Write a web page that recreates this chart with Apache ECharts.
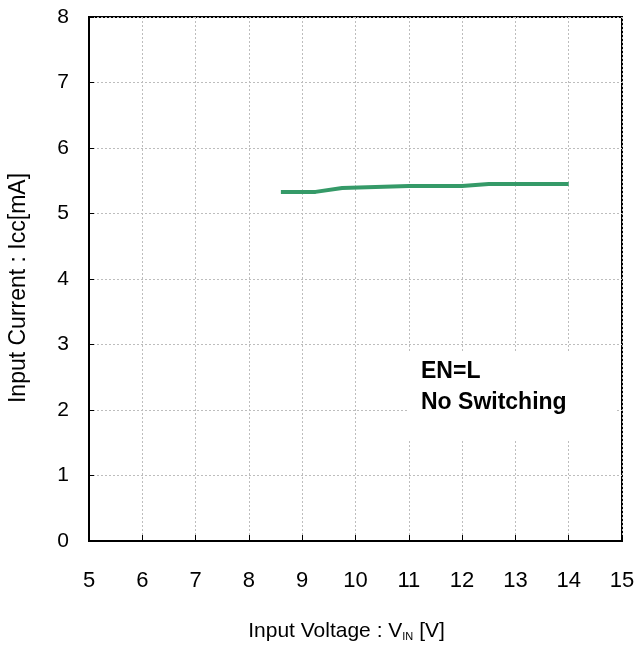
<!DOCTYPE html>
<html>
<head>
<meta charset="utf-8">
<script src="https://cdn.jsdelivr.net/npm/echarts@6/dist/echarts.min.js"></script>
<style>
html, body { margin: 0; padding: 0; background: #fff; }
#chart { width: 638px; height: 648px; }
</style>
</head>
<body>
<div id="chart"></div>
<script>
// input voltage [V] vs input current [mA]
const vin = [8.6, 9.25, 9.75, 11, 12, 12.5, 14];
const icc = [5.33, 5.33, 5.39, 5.42, 5.42, 5.45, 5.45];
const noteLines = ['EN=L', 'No Switching'];

const chart = echarts.init(document.getElementById('chart'));

const font = '"Liberation Sans", Arial, sans-serif';

const option = {
    animation: false,
    grid: {
        left: 89,
        right: 16,
        top: 17,
        bottom: 107,
        outerBoundsMode: 'none',
        containLabel: false,
        show: true,
        borderColor: '#000',
        borderWidth: 2
    },
    xAxis: {
        type: 'value',
        min: 5,
        max: 15,
        interval: 1,
        name: 'Input Voltage : V{sub|IN} [V]',
        nameLocation: 'middle',
        nameGap: 80,
        nameTextStyle: {
            fontFamily: font,
            fontSize: 21,
            color: '#000',
            padding: [0, 18, 0, 0],
            rich: {
                sub: { fontSize: 11, verticalAlign: 'bottom', padding: [8, 0, 0, 0], fontFamily: font, color: '#000' }
            }
        },
        axisLine: { show: true, lineStyle: { color: '#000', width: 2 } },
        axisTick: { show: true, inside: true, length: 6, lineStyle: { color: '#000' } },
        axisLabel: { margin: 29, fontFamily: font, fontSize: 22, color: '#000' },
        splitLine: { show: true, lineStyle: { color: '#bdbdbd', type: [2, 2], width: 1 } }
    },
    yAxis: {
        type: 'value',
        min: 0,
        max: 8,
        interval: 1,
        name: 'Input Current : Icc[mA]',
        nameLocation: 'middle',
        nameGap: 59,
        nameTextStyle: { fontFamily: font, fontSize: 23, color: '#000', padding: [0, 18, 0, 0] },
        axisLine: { show: true, lineStyle: { color: '#000', width: 2 } },
        axisTick: { show: true, inside: true, length: 5, lineStyle: { color: '#000' } },
        axisLabel: { margin: 20, fontFamily: font, fontSize: 21, color: '#000' },
        splitLine: { show: true, lineStyle: { color: '#bdbdbd', type: [2, 2], width: 1 } }
    },
    graphic: [
        {
            type: 'rect',
            shape: { x: 408, y: 352, width: 208, height: 88 },
            style: { fill: '#fff' },
            z: 5
        },
        {
            type: 'text',
            left: 421,
            top: 356,
            z: 6,
            style: {
                text: noteLines.join('\n'),
                font: 'bold 23px ' + font,
                lineHeight: 31,
                fill: '#000'
            }
        }
    ],
    series: [
        {
            type: 'line',
            data: vin.map((v, i) => [v, icc[i]]),
            showSymbol: false,
            lineStyle: { color: '#359a68', width: 4 },
            z: 10
        }
    ]
};

chart.setOption(option);
</script>
</body>
</html>
